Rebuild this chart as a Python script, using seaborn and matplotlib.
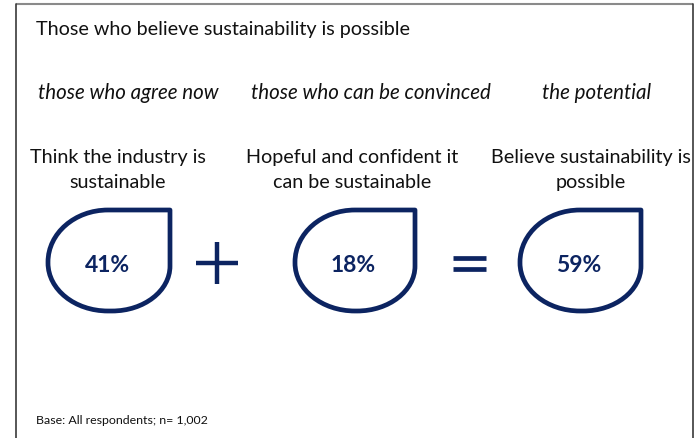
import matplotlib
matplotlib.use("Agg")
import matplotlib.pyplot as plt
import seaborn as sns
from matplotlib.path import Path
from matplotlib.patches import PathPatch

# Survey figures
segment_labels = ["those who agree now", "those who can be convinced", "the potential"]
segment_headers = ["Think the industry is\nsustainable",
                   "Hopeful and confident it\ncan be sustainable",
                   "Believe sustainability is\npossible"]
shares = [41, 18, 59]
title = "Those who believe sustainability is possible"
footnote = "Base: All respondents; n= 1,002"

sns.set_theme(style="white")
plt.rcParams["font.family"] = ["Lato", "DejaVu Sans"]

NAVY = "#0c2461"
W, H = 696, 439
fig = plt.figure(figsize=(W / 100, H / 100), dpi=100)
ax = fig.add_axes([0, 0, 1, 1])
ax.set_xlim(0, W)
ax.set_ylim(H, 0)
ax.axis("off")

# frame: grey top rule, dark side rules
ax.plot([16, 693], [5, 5], color="#8a8a8a", lw=1.5, solid_capstyle="butt")
ax.plot([16, 16], [5, H], color="#3a3a3a", lw=1.2)
ax.plot([693, 693], [5, H], color="#3a3a3a", lw=1.2)

ax.text(36, 29, title, fontsize=14.2, color="#111111", va="center", ha="left")

label_x = [128, 371, 597]
header_x = [118, 352, 591]
drop_x = [(48, 170), (295, 415), (520, 641)]
K = 0.5523


def drop_path(x0, x1, y0, y1):
    # rounded drop with a square top-right corner
    tl = (60, 52)
    bl = (60, 48)
    br = (58, 45)
    verts = [(x1, y0), (x1, y1 - br[1]),
             (x1, y1 - br[1] + K * br[1]), (x1 - br[0] + K * br[0], y1), (x1 - br[0], y1),
             (x0 + bl[0], y1),
             (x0 + bl[0] - K * bl[0], y1), (x0, y1 - bl[1] + K * bl[1]), (x0, y1 - bl[1]),
             (x0, y0 + tl[1]),
             (x0, y0 + tl[1] - K * tl[1]), (x0 + tl[0] - K * tl[0], y0), (x0 + tl[0], y0),
             (x1, y0), (x1, y0)]
    codes = [Path.MOVETO, Path.LINETO,
             Path.CURVE4, Path.CURVE4, Path.CURVE4,
             Path.LINETO,
             Path.CURVE4, Path.CURVE4, Path.CURVE4,
             Path.LINETO,
             Path.CURVE4, Path.CURVE4, Path.CURVE4,
             Path.LINETO, Path.CLOSEPOLY]
    return Path(verts, codes)


for i, (lab, head, val) in enumerate(zip(segment_labels, segment_headers, shares)):
    ax.text(label_x[i], 93, lab, fontsize=14.8, style="italic", color="#111111",
            ha="center", va="center")
    ax.text(header_x[i], 170, head, fontsize=14.2, color="#111111",
            ha="center", va="center", linespacing=1.55)
    x0, x1 = drop_x[i]
    ax.add_patch(PathPatch(drop_path(x0, x1, 211, 312), fill=False,
                           edgecolor=NAVY, lw=3.4, joinstyle="round"))
    ax.text((x0 + x1) / 2 - 2, 266, f"{val}%", fontsize=16.5, fontweight="bold",
            color=NAVY, ha="center", va="center")

# operators between the drops
ax.plot([196, 238], [264, 264], color=NAVY, lw=3.2, solid_capstyle="butt")
ax.plot([217, 217], [243, 285], color=NAVY, lw=3.2, solid_capstyle="butt")
ax.plot([453, 486], [259, 259], color=NAVY, lw=3.4, solid_capstyle="butt")
ax.plot([453, 486], [270, 270], color=NAVY, lw=3.4, solid_capstyle="butt")

ax.text(36, 421, footnote, fontsize=8.9, color="#111111", ha="left", va="center")

fig.savefig("out.png", dpi=100, facecolor="white")
